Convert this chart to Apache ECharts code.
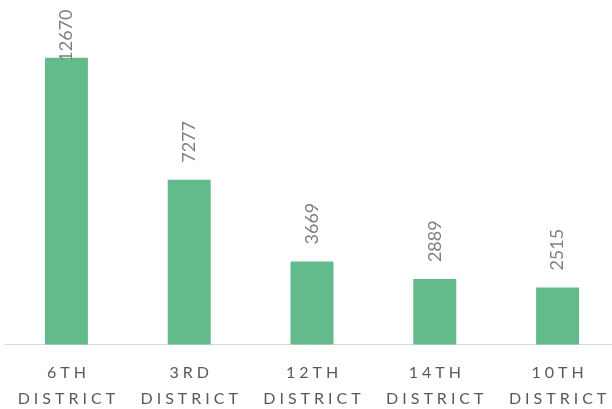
<!DOCTYPE html>
<html>
<head>
<meta charset="utf-8">
<script src="https://cdn.jsdelivr.net/npm/echarts@6/dist/echarts.min.js"></script>
<style>
  html, body { margin: 0; padding: 0; background: #fff; }
  #chart { width: 612px; height: 409px; }
</style>
</head>
<body>
<div id="chart"></div>
<script>
var categories = ['6TH\nDISTRICT', '3RD\nDISTRICT', '12TH\nDISTRICT', '14TH\nDISTRICT', '10TH\nDISTRICT'];
var values = [12670, 7277, 3669, 2889, 2515];

// spread letters out, like the letter-spaced axis text
function spaced(s) {
  return s.split('\n').map(function (line) {
    return line.split('').join('\u2005');
  }).join('\n');
}

var data = values.map(function (v, i) {
  var item = { value: v };
  if (i === 0) {
    item.label = { distance: -4 }; // top label got squeezed into the bar
  }
  return item;
});

var option = {
  backgroundColor: '#fff',
  animation: false,
  grid: {
    left: 5,
    width: 614,
    top: 5,
    bottom: 64.5,
    outerBoundsMode: 'none',
    containLabel: false
  },
  xAxis: {
    type: 'category',
    data: categories,
    axisTick: { show: false },
    axisLine: { lineStyle: { color: '#d9d9d9', width: 1 } },
    axisLabel: {
      interval: 0,
      margin: 15,
      color: '#595959',
      fontFamily: 'Lato',
      fontSize: 16,
      lineHeight: 26,
      formatter: function (v) { return spaced(v); }
    }
  },
  yAxis: {
    type: 'value',
    min: 0,
    max: 15000,
    show: false,
    splitLine: { show: false }
  },
  series: [
    {
      type: 'bar',
      barWidth: 43,
      data: data,
      itemStyle: { color: '#63bb8b' },
      label: {
        show: true,
        position: 'top',
        rotate: 90,
        align: 'left',
        verticalAlign: 'middle',
        distance: 17,
        color: '#7f7f7f',
        fontFamily: 'Lato',
        fontSize: 18
      }
    }
  ]
};

var chart = echarts.init(document.getElementById('chart'));
chart.setOption(option);
</script>
</body>
</html>
